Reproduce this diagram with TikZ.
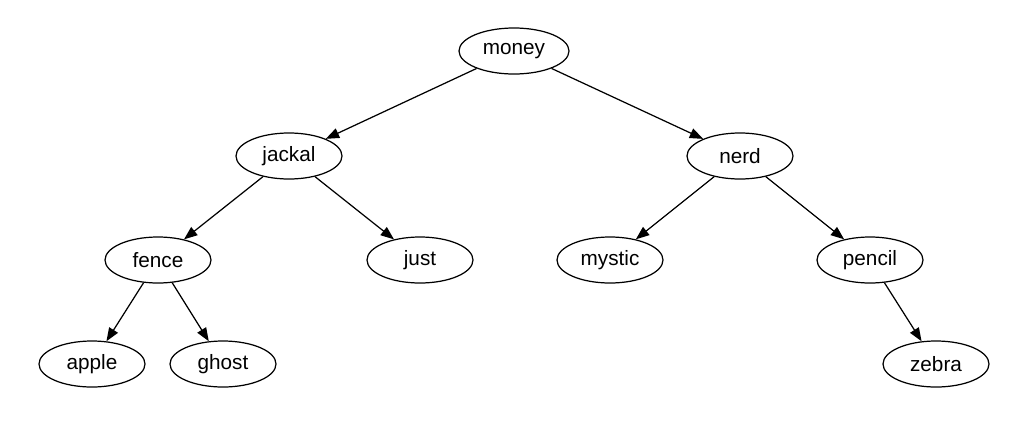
\documentclass[tikz,border=0pt]{standalone}
\usepackage{fontspec}
\setmainfont{Liberation Sans}
\usetikzlibrary{shapes.geometric, arrows.meta}
\tikzset{
    wordnode/.style={
        ellipse,
        draw=black,
        line width=0.7pt, % 边框
        minimum width=2.12cm,
        minimum height=0.92cm,
        inner sep=0,
        font=\fontsize{11.8}{14}\selectfont
    },
    treeedge/.style={
        line width=0.7pt,
        -{Triangle[length=7.6pt,width=5.8pt]}
    }
}
\begin{document}
\begin{tikzpicture}
    \useasboundingbox (0,0) rectangle (20.72,-8.48);
    % 二叉搜索树
    \node[wordnode, minimum width=2.2cm] (money) at (10.28,-1.02) {money};
    \node[wordnode] (jackal) at (5.78,-3.12) {jackal};
    \node[wordnode] (nerd) at (14.80,-3.12) {nerd};
    \node[wordnode] (fence) at (3.16,-5.20) {fence};
    \node[wordnode] (just) at (8.40,-5.20) {just};
    \node[wordnode] (mystic) at (12.20,-5.20) {mystic};
    \node[wordnode] (pencil) at (17.40,-5.20) {pencil};
    \node[wordnode] (apple) at (1.84,-7.28) {apple};
    \node[wordnode] (ghost) at (4.46,-7.28) {ghost};
    \node[wordnode] (zebra) at (18.72,-7.28) {zebra};
    % 连线
    \draw[treeedge] (money) -- (jackal);
    \draw[treeedge] (money) -- (nerd);
    \draw[treeedge] (jackal) -- (fence);
    \draw[treeedge] (jackal) -- (just);
    \draw[treeedge] (nerd) -- (mystic);
    \draw[treeedge] (nerd) -- (pencil);
    \draw[treeedge] (fence) -- (apple);
    \draw[treeedge] (fence) -- (ghost);
    \draw[treeedge] (pencil) -- (zebra);
\end{tikzpicture}
\end{document}
